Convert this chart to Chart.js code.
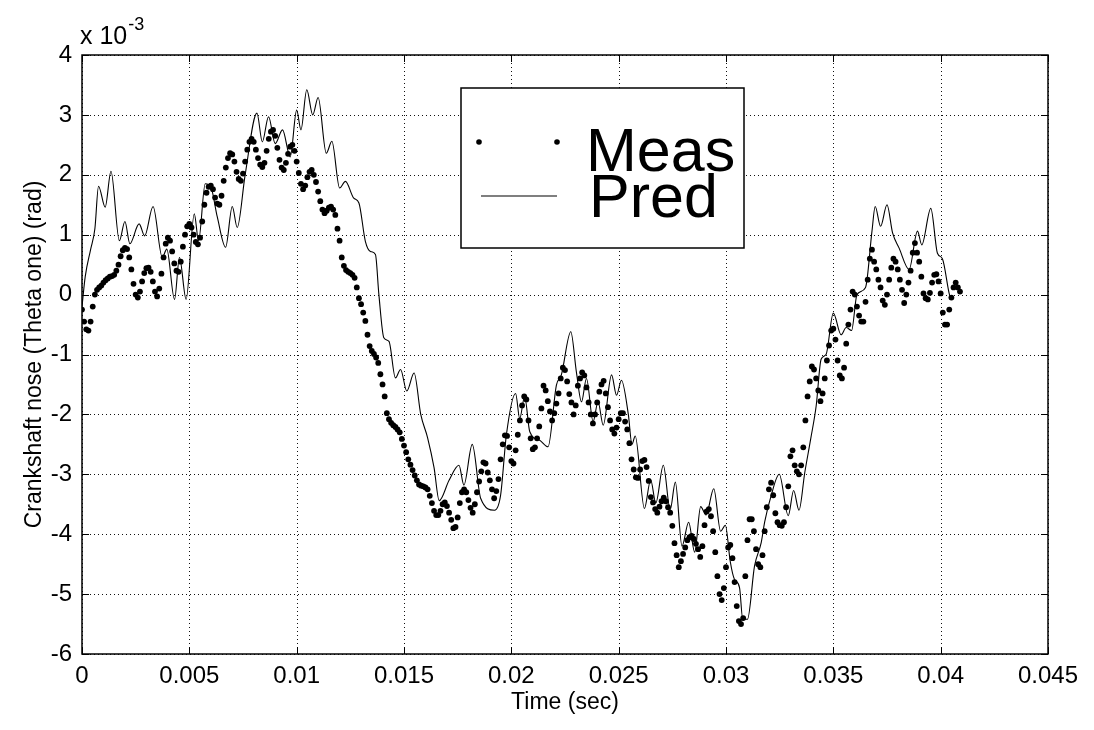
<!DOCTYPE html>
<html>
<head>
<meta charset="utf-8">
<script src="https://cdn.jsdelivr.net/npm/chart.js@4.4.0/dist/chart.umd.min.js"></script>
<style>
  html, body { margin: 0; padding: 0; background: #fff; }
  #wrap { position: relative; width: 1094px; height: 730px; }
</style>
</head>
<body>
<div id="wrap"><canvas id="chart" width="1094" height="730"></canvas></div>
<script>
// Axis ticks: time in seconds, angle in units of 10^-3 rad
const xTicks = [0, 0.005, 0.01, 0.015, 0.02, 0.025, 0.03, 0.035, 0.04, 0.045];
const yTicks = [-6, -5, -4, -3, -2, -1, 0, 1, 2, 3, 4];

// Measured trace, one sample every 0.1 ms (values x 10^-3 rad)
const measStepMs = 0.1;
const measVals = [
  -0.25, -0.45, -0.58, -0.6, -0.45, -0.2, 0.0, 0.08, 0.12, 0.15,
  0.2, 0.24, 0.27, 0.3, 0.31, 0.33, 0.4, 0.5, 0.64, 0.74,
  0.78, 0.76, 0.62, 0.42, 0.18, 0.0, -0.05, 0.05, 0.22, 0.36,
  0.44, 0.45, 0.38, 0.22, 0.05, -0.03, 0.1, 0.35, 0.62, 0.85,
  0.95, 0.9, 0.72, 0.52, 0.4, 0.38, 0.55, 0.8, 1.0, 1.14,
  1.18, 1.12, 1.0, 0.88, 0.84, 0.95, 1.22, 1.5, 1.7, 1.8,
  1.82, 1.76, 1.62, 1.52, 1.5, 1.65, 1.9, 2.12, 2.28, 2.36,
  2.34, 2.22, 2.05, 1.93, 1.9, 2.02, 2.22, 2.42, 2.55, 2.6,
  2.55, 2.42, 2.28, 2.17, 2.13, 2.2, 2.4, 2.6, 2.72, 2.75,
  2.65, 2.45, 2.25, 2.12, 2.08, 2.2, 2.35, 2.47, 2.5, 2.4,
  2.22, 2.03, 1.85, 1.76, 1.82, 1.96, 2.05, 2.08, 2.0, 1.88,
  1.72, 1.56, 1.42, 1.36, 1.4, 1.45, 1.47, 1.42, 1.33, 1.1,
  0.9, 0.62, 0.48, 0.41, 0.38, 0.36, 0.33, 0.28, 0.12, -0.06,
  -0.16, -0.3, -0.44, -0.67, -0.86, -0.94, -0.99, -1.05, -1.14, -1.33,
  -1.5, -1.7, -1.98, -2.08, -2.14, -2.18, -2.21, -2.25, -2.3, -2.41,
  -2.52, -2.63, -2.75, -2.84, -2.93, -3.02, -3.1, -3.17, -3.19, -3.2,
  -3.22, -3.25, -3.36, -3.48, -3.61, -3.68, -3.68, -3.61, -3.5, -3.47,
  -3.53, -3.64, -3.76, -3.9, -3.88, -3.72, -3.48, -3.3, -3.25, -3.3,
  -3.43, -3.56, -3.64, -3.5, -3.3, -3.12, -2.95, -2.8, -2.82, -2.97,
  -3.1, -3.25, -3.4, -3.28, -3.08, -2.75, -2.5, -2.35, -2.36, -2.55,
  -2.78, -2.82, -2.6, -2.34, -2.1, -1.85, -1.7, -1.75, -2.1, -2.4,
  -2.58, -2.55, -2.4, -2.2, -1.9, -1.52, -1.6, -1.78, -1.95, -2.1,
  -1.98, -1.82, -1.65, -1.4, -1.22, -1.26, -1.45, -1.66, -1.8, -2.0,
  -1.85, -1.52, -1.4, -1.3, -1.35, -1.55, -1.8, -2.0, -2.15, -2.0,
  -1.8, -1.62, -1.5, -1.44, -1.65, -1.88, -2.1, -2.25, -2.32, -2.22,
  -2.08, -1.98, -1.98, -2.12, -2.25, -2.48, -2.75, -2.92, -3.05, -3.06,
  -2.92, -2.78, -2.76, -2.88, -3.11, -3.38, -3.47, -3.58, -3.64, -3.54,
  -3.45, -3.39, -3.45, -3.55, -3.64, -3.86, -4.15, -4.35, -4.55, -4.45,
  -4.33, -4.22, -4.1, -4.05, -4.03, -4.08, -4.16, -4.25, -4.38, -4.2,
  -3.85, -3.62, -3.58, -3.7, -3.95, -4.3, -4.7, -5.0, -5.1, -4.9,
  -4.55, -4.22, -4.18, -4.4, -4.8, -5.2, -5.45, -5.5, -5.4, -4.7,
  -4.1, -3.75, -3.75, -3.95, -4.25, -4.5, -4.55, -4.35, -3.95, -3.55,
  -3.25, -3.14, -3.35, -3.65, -3.8, -3.85, -3.86, -3.8, -3.55, -3.2,
  -2.7, -2.6, -2.85, -2.95, -3.0, -2.85, -2.55, -2.1, -1.7, -1.45,
  -1.2, -1.25, -1.4, -1.6, -1.78, -1.65, -1.4, -1.1, -0.85, -0.6,
  -0.57, -0.75, -1.1, -1.35, -1.4, -1.22, -0.82, -0.5, -0.25, 0.05,
  0.0, -0.2, -0.35, -0.45, -0.45, -0.12, 0.25, 0.6, 0.75, 0.55,
  0.42, 0.25, 0.12, -0.1, -0.17, 0.0, 0.25, 0.45, 0.6, 0.55,
  0.42, 0.25, 0.08, -0.14, 0.0, 0.2, 0.4, 0.7, 0.86, 0.7,
  0.55, 0.3, 0.02, -0.06, -0.08, 0.03, 0.2, 0.33, 0.34, 0.22,
  0.02, -0.3, -0.5, -0.5, -0.25, -0.05, 0.12, 0.2, 0.12, 0.05
];

// Predicted trace: time (ms) and value (x 10^-3 rad)
const predTimeMs = [
  0.0, 0.15, 0.4, 0.6, 0.77, 1.08, 1.35, 1.74, 2.0, 2.23, 2.66, 2.92, 3.31, 3.74, 3.95,
  4.31, 4.54, 4.85, 5.23, 5.43, 5.74, 6.0, 6.3, 6.69, 7.0, 7.23, 7.6, 8.15, 8.4, 8.69,
  9.0, 9.34, 9.7, 10.0, 10.2, 10.47, 10.75, 11.0, 11.38, 11.64, 12.0, 12.27, 12.66, 12.9,
  13.2, 13.44, 13.67, 13.83, 14.06, 14.3, 14.6, 14.84, 15.13, 15.47, 15.78, 16.1, 16.4,
  16.64, 17.1, 17.56, 17.79, 18.18, 18.57, 19.22, 19.5, 19.77, 20.2, 20.39, 20.62, 20.86,
  21.32, 21.71, 22.1, 22.33, 22.77, 23.03, 23.27, 23.5, 23.81, 24.04, 24.28, 24.67, 24.9,
  25.13, 25.45, 25.62, 25.77, 26.2, 26.49, 26.73, 27.08, 27.4, 27.64, 27.95, 28.26, 28.54,
  28.82, 29.07, 29.43, 29.75, 29.97, 30.2, 30.39, 30.63, 30.78, 31.0, 31.33, 31.64, 31.8,
  32.1, 32.48, 32.9, 33.15, 33.4, 33.67, 33.95, 34.2, 34.43, 34.66, 35.0, 35.36, 35.6,
  35.85, 36.1, 36.5, 36.8, 36.95, 37.2, 37.5, 37.76, 38.06, 38.53, 38.92, 39.12, 39.54,
  39.85, 40.08, 40.39, 40.45
];
const predVals = [
  -0.2, 0.3, 0.75, 1.1, 1.81, 1.46, 2.06, 0.9, 1.22, 0.85, 1.18, 0.98, 1.47, 0.62, 0.76,
  -0.08, 0.62, -0.08, 1.35, 0.9, 1.85, 1.8, 1.3, 0.79, 1.47, 1.12, 2.0, 3.03, 2.55, 2.97,
  2.52, 2.75, 2.3, 3.08, 2.75, 3.42, 3.0, 3.29, 2.36, 2.56, 1.78, 1.89, 1.61, 1.53,
  0.89, 0.72, 0.67, 0.0, -0.72, -0.78, -1.39, -1.25, -1.61, -1.31, -2.0, -2.39, -2.89,
  -3.44, -3.1, -2.85, -3.18, -2.5, -3.4, -3.6, -3.35, -2.34, -1.65, -2.07, -1.7, -2.29,
  -2.43, -2.54, -1.51, -1.34, -0.62, -1.29, -1.79, -1.4, -2.12, -1.79, -2.18, -1.34, -1.68,
  -1.43, -2.0, -2.5, -2.36, -3.57, -3.09, -3.48, -2.85, -3.59, -3.13, -4.2, -3.8, -4.3,
  -3.54, -3.68, -3.24, -3.95, -3.85, -4.46, -4.75, -4.89, -5.42, -5.42, -4.53, -4.14, -3.8,
  -3.36, -3.0, -3.69, -3.27, -3.6, -2.97, -2.4, -1.86, -1.08, -1.0, -0.31, -0.67, -0.55,
  -0.6, 0.0, 0.12, 1.06, 1.47, 1.14, 1.5, 1.03, 0.78, 0.42, 1.06, 0.83, 1.44,
  0.69, 0.6, 0.03, -0.05
];

// Legend entries
const legendLabels = ['Meas', 'Pred'];

const xTitle = 'Time (sec)';
const yTitle = 'Crankshaft nose (Theta one) (rad)';

const measPoints = measVals.map((v, i) => ({ x: i * measStepMs / 1000, y: v }));
const predPoints = predVals.map((v, i) => ({ x: predTimeMs[i] / 1000, y: v }));

const FONT = '"Liberation Sans", Arial, Helvetica, sans-serif';

// Draws the MATLAB style frame: dotted grid, box, inward ticks, titles, legend
const matlabFrame = {
  id: 'matlabFrame',
  beforeDatasetsDraw(chart) {
    const { ctx, chartArea: a, scales } = chart;
    ctx.save();
    ctx.strokeStyle = '#111';
    ctx.lineWidth = 1;
    ctx.setLineDash([1, 3]);
    xTicks.forEach(t => {
      const px = Math.round(scales.x.getPixelForValue(t)) + 0.5;
      ctx.beginPath(); ctx.moveTo(px, a.top); ctx.lineTo(px, a.bottom); ctx.stroke();
    });
    yTicks.forEach(t => {
      const py = Math.round(scales.y.getPixelForValue(t)) + 0.5;
      ctx.beginPath(); ctx.moveTo(a.left, py); ctx.lineTo(a.right, py); ctx.stroke();
    });
    ctx.restore();
  },
  afterDatasetsDraw(chart) {
    const { ctx, chartArea: a, scales } = chart;
    ctx.save();
    ctx.strokeStyle = '#000';
    ctx.lineWidth = 1.5;
    ctx.strokeRect(a.left, a.top, a.right - a.left, a.bottom - a.top);

    // inward tick marks on all four sides
    ctx.lineWidth = 1;
    const tl = 7;
    xTicks.forEach(t => {
      const px = Math.round(scales.x.getPixelForValue(t)) + 0.5;
      ctx.beginPath();
      ctx.moveTo(px, a.bottom); ctx.lineTo(px, a.bottom - tl);
      ctx.moveTo(px, a.top); ctx.lineTo(px, a.top + tl);
      ctx.stroke();
    });
    yTicks.forEach(t => {
      const py = Math.round(scales.y.getPixelForValue(t)) + 0.5;
      ctx.beginPath();
      ctx.moveTo(a.left, py); ctx.lineTo(a.left + tl, py);
      ctx.moveTo(a.right, py); ctx.lineTo(a.right - tl, py);
      ctx.stroke();
    });

    // exponent label
    ctx.fillStyle = '#000';
    ctx.textBaseline = 'alphabetic';
    ctx.textAlign = 'left';
    ctx.font = '25px ' + FONT;
    ctx.fillText('x 10', a.left - 2, 44);
    const w = ctx.measureText('x 10').width;
    ctx.font = '18px ' + FONT;
    ctx.fillText('-3', a.left - 2 + w + 1, 30);

    // axis titles
    ctx.font = '23px ' + FONT;
    ctx.textAlign = 'center';
    ctx.textBaseline = 'middle';
    ctx.fillText(xTitle, (a.left + a.right) / 2, 703);
    ctx.save();
    ctx.translate(35, (a.top + a.bottom) / 2);
    ctx.rotate(-Math.PI / 2);
    ctx.fillText(yTitle, 0, 0);
    ctx.restore();

    // legend box
    const bx = 461, by = 88, bw = 283, bh = 160;
    ctx.fillStyle = '#fff';
    ctx.fillRect(bx, by, bw, bh);
    ctx.lineWidth = 1.5;
    ctx.strokeStyle = '#000';
    ctx.strokeRect(bx, by, bw, bh);
    ctx.fillStyle = '#000';
    [479, 557].forEach(x => {
      ctx.beginPath(); ctx.arc(x, 142, 2.8, 0, Math.PI * 2); ctx.fill();
    });
    ctx.lineWidth = 1.2;
    ctx.beginPath(); ctx.moveTo(481, 196); ctx.lineTo(557, 196); ctx.stroke();
    ctx.font = '61px ' + FONT;
    ctx.textAlign = 'left';
    ctx.textBaseline = 'alphabetic';
    ctx.fillText(legendLabels[0], 586, 171);
    ctx.fillText(legendLabels[1], 589, 217);
    ctx.restore();
  }
};

const ctx = document.getElementById('chart').getContext('2d');
new Chart(ctx, {
  type: 'scatter',
  data: {
    datasets: [{
      label: legendLabels[0],
      data: measPoints,
      showLine: false,
      pointRadius: 2.9,
      pointBackgroundColor: '#000',
      pointBorderWidth: 0
    }, {
      label: legendLabels[1],
      data: predPoints,
      showLine: true,
      borderColor: '#000',
      borderWidth: 1.1,
      pointRadius: 0,
      cubicInterpolationMode: 'monotone'
    }]
  },
  options: {
    responsive: false,
    devicePixelRatio: 1,
    animation: false,
    layout: { padding: { top: 55, right: 46, left: 0, bottom: 0 } },
    plugins: { legend: { display: false }, tooltip: { enabled: false } },
    scales: {
      x: {
        type: 'linear',
        min: 0,
        max: 0.045,
        afterFit(scale) { scale.height = 76; },
        afterBuildTicks(scale) { scale.ticks = xTicks.map(v => ({ value: v })); },
        ticks: {
          color: '#000',
          font: { family: FONT, size: 24 },
          padding: 0,
          maxRotation: 0,
          autoSkip: false,
          callback: v => String(Number(v.toFixed(3)))
        },
        grid: { display: false },
        border: { display: false }
      },
      y: {
        min: -6,
        max: 4,
        afterFit(scale) { scale.width = 82; },
        afterBuildTicks(scale) { scale.ticks = yTicks.map(v => ({ value: v })); },
        ticks: {
          color: '#000',
          font: { family: FONT, size: 24 },
          padding: 2,
          autoSkip: false
        },
        grid: { display: false },
        border: { display: false }
      }
    }
  },
  plugins: [matlabFrame]
});
</script>
</body>
</html>
